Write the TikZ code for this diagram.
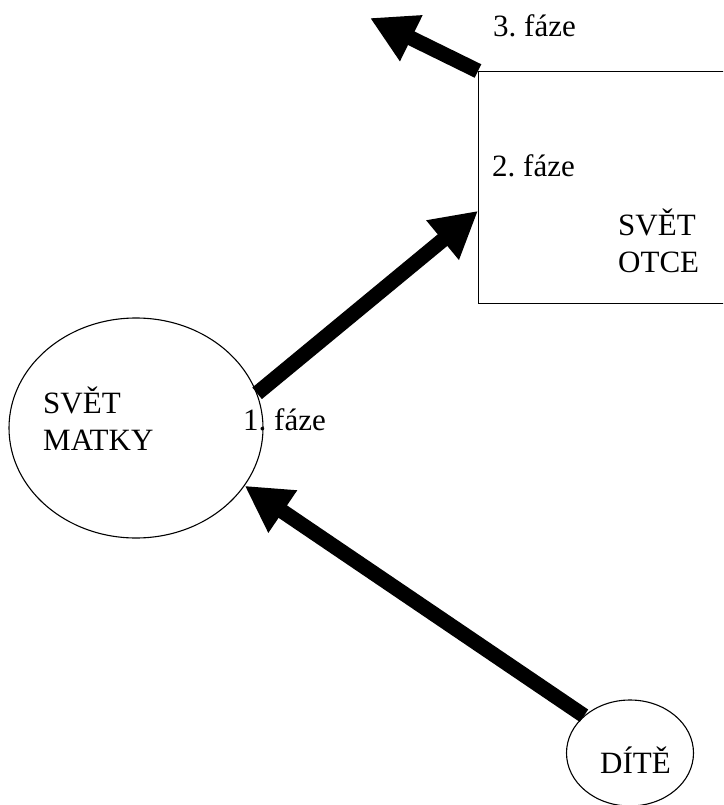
\documentclass[tikz,border=0pt]{standalone}
\usepackage{fontspec}
\setmainfont{Liberation Serif}
\frenchspacing
\usetikzlibrary{arrows.meta,calc,shapes.geometric}
\begin{document}
\begin{tikzpicture}[x=1pt,y=-1pt,
  outline/.style={draw=black,line width=1.1pt,inner sep=0pt},
  world/.style={outline,ellipse},
  lbl/.style={inner sep=0pt,anchor=base west,font=\fontsize{31}{37}\selectfont},
  bigarrow/.style={line width=15pt,-{Triangle[length=46pt,width=48pt]}}]
\useasboundingbox (0,0) rectangle (723,805);
\clip (0,0) rectangle (723,805);
% shapes
\node[world,minimum width=254pt,minimum height=220pt] (matka) at (136,428) {};
\node[outline,rectangle,anchor=north west,minimum width=330pt,minimum height=232pt] (otec) at (478,71) {};
\node[world,minimum width=127pt,minimum height=106pt] (dite) at (630,753) {};
% texts
\node[lbl] (m1) at (43,413) {SVĚT};
\node[lbl] (m2) at (43,450) {MATKY};
\node[lbl] (o1) at (618,235) {SVĚT};
\node[lbl] (o2) at (618,272) {OTCE};
\node[lbl] (d1) at (600,773) {DÍTĚ};
\node[lbl] (f1) at (243,430) {1. fáze};
\node[lbl] (f2) at (492,177) {2. fáze};
\node[lbl] (f3) at (493,37) {3. fáze};
% connectors
\coordinate (in2) at ($(otec.north west)!0.6!(otec.south west)$);
\coordinate (out3) at (370,18);
\draw[bigarrow] (dite.141) -- (matka.-28);
\draw[bigarrow] (matka.16) -- (in2);
\draw[bigarrow] (otec.north west) -- (out3);
\end{tikzpicture}
\end{document}
